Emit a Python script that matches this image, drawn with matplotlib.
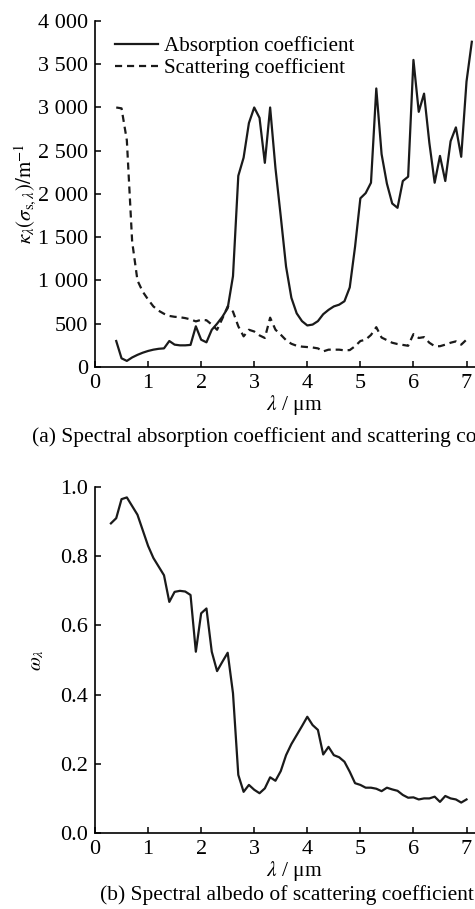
import matplotlib
matplotlib.use("Agg")
import matplotlib.pyplot as plt
import numpy as np

plt.rcParams['font.family'] = ['Liberation Serif', 'DejaVu Serif']
plt.rcParams['mathtext.fontset'] = 'stix'

# absorption coefficient, 0.4 .. 7.1 um step 0.1
lam_abs = np.round(np.arange(0.4, 7.15, 0.1), 1)
kappa = [300, 100, 70, 110, 140, 165, 185, 200, 210, 215,
         300, 258, 250, 250, 255, 470, 315, 285, 430, 500,
         580, 680, 1050, 2210, 2420, 2820, 3000, 2880, 2360, 3000,
         2300, 1740, 1160, 800, 620, 530, 480, 490, 530, 610,
         660, 700, 720, 760, 920, 1390, 1950, 2010, 2130, 3220,
         2460, 2120, 1890, 1840, 2150, 2200, 3550, 2950, 3160, 2590,
         2130, 2440, 2150, 2610, 2770, 2430, 3300, 3760]

# scattering coefficient, 0.4 .. 7.0 um
lam_sca = np.round(np.arange(0.4, 7.05, 0.1), 1)
sigma = [3000, 2990, 2620, 1450, 1000, 870, 780, 700, 650, 615,
         590, 580, 575, 565, 550, 527, 545, 540, 490, 430,
         560, 700, 640, 470, 354, 430, 410, 365, 335, 570,
         431, 373, 310, 268, 245, 235, 230, 225, 215, 180,
         200, 200, 200, 192, 195, 240, 300, 316, 370, 460,
         340, 310, 280, 265, 255, 245, 380, 335, 345, 280,
         240, 240, 258, 280, 296, 258, 316]

# albedo, 0.3 .. 7.0 um
lam_alb = np.round(np.arange(0.3, 7.05, 0.1), 1)
omega = [0.895, 0.91, 0.965, 0.97, 0.945, 0.92, 0.875, 0.83, 0.795, 0.77,
         0.745, 0.668, 0.697, 0.70, 0.698, 0.688, 0.524, 0.635, 0.649, 0.524,
         0.468, 0.495, 0.521, 0.404, 0.168, 0.119, 0.139, 0.125, 0.115, 0.129,
         0.161, 0.151, 0.179, 0.225, 0.257, 0.283, 0.309, 0.336, 0.312, 0.298,
         0.227, 0.249, 0.225, 0.219, 0.206, 0.177, 0.144, 0.139, 0.131, 0.131,
         0.128, 0.121, 0.131, 0.126, 0.122, 0.110, 0.102, 0.103, 0.097, 0.100,
         0.100, 0.105, 0.090, 0.107, 0.100, 0.097, 0.088, 0.097]

x_ticks = [0, 1, 2, 3, 4, 5, 6, 7]
k_ticks = [0, 500, 1000, 1500, 2000, 2500, 3000, 3500, 4000]
k_labels = ["0", "500", "1 000", "1 500", "2 000", "2 500", "3 000", "3 500", "4 000"]
w_ticks = [0.0, 0.2, 0.4, 0.6, 0.8, 1.0]

fs = 16

fig = plt.figure(figsize=(4.75, 9.09), dpi=100)
ax1 = fig.add_axes([0.2, 0.5963, 0.838, 0.3806])
ax2 = fig.add_axes([0.2, 0.0836, 0.838, 0.3806])

for ax in (ax1, ax2):
    ax.spines['top'].set_visible(False)
    ax.spines['right'].set_visible(False)
    ax.spines['left'].set_linewidth(1.2)
    ax.spines['bottom'].set_linewidth(1.2)
    ax.tick_params(direction='in', length=4, width=1.1, labelsize=fs, pad=5)
    ax.set_xlim(0, 7.5)
    ax.set_xticks(x_ticks)
    ax.set_xlabel(r'$\lambda$ / μm', fontsize=fs - 0.5, labelpad=0)

ax1.plot(lam_abs, kappa, color='#1a1a1a', lw=1.6, label='Absorption coefficient')
ax1.plot(lam_sca, sigma, color='#1a1a1a', lw=1.6, dashes=(3.2, 2.2), label='Scattering coefficient')
ax1.set_ylim(0, 4000)
ax1.set_yticks(k_ticks)
ax1.set_yticklabels(k_labels)
ax1.set_ylabel(r'$\kappa_\lambda(\sigma_{\mathrm{s},\lambda})/\mathrm{m}^{-1}$', fontsize=fs - 1, labelpad=0)
ax1.legend(loc='upper left', bbox_to_anchor=(0.03, 0.98), frameon=False, fontsize=fs - 0.8,
           handlelength=2.0, handletextpad=0.3, borderaxespad=0, labelspacing=0.1)

ax2.plot(lam_alb, omega, color='#1a1a1a', lw=1.6)
ax2.set_ylim(0, 1.0)
ax2.set_yticks(w_ticks)
ax2.set_yticklabels(["%.1f" % v for v in w_ticks])
ax2.set_ylabel(r'$\omega_\lambda$', fontsize=fs - 1.5, labelpad=10)

fig.text(32 / 475, 1 - 437 / 909, '(a) Spectral absorption coefficient and scattering coefficient',
         fontsize=15.5, ha='left', va='center')
fig.text(100 / 475, 1 - 895 / 909, '(b) Spectral albedo of scattering coefficient',
         fontsize=15.5, ha='left', va='center')

fig.savefig('out.png', dpi=100)
